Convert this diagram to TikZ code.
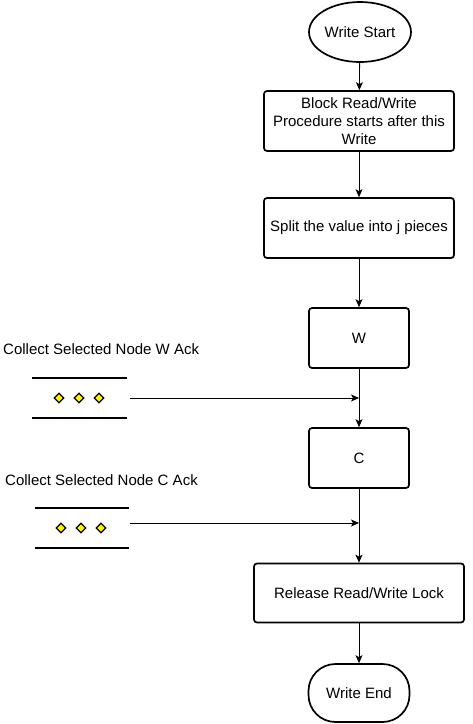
\documentclass[tikz,border=0pt]{standalone}
\usepackage{fontspec}
\setmainfont{Liberation Sans}
\usetikzlibrary{arrows.meta,shapes.geometric}

\begin{document}
\begin{tikzpicture}[x=1pt,y=-1pt,
  every node/.style={font=\fontsize{15}{18}\selectfont,inner sep=0pt},
  box/.style={draw,line width=1.7pt,rounded corners=3pt,minimum height=60pt,align=center},
  arr/.style={-{Stealth[length=8pt,width=7pt,inset=2pt]},line width=0.8pt},
  dot/.style={diamond,draw,fill=yellow,line width=1.2pt,minimum size=10pt}]
\useasboundingbox (0,0) rectangle (473,724);
% main flow
\node[ellipse,draw,line width=1.7pt,minimum width=102pt,minimum height=60pt] (S) at (360,32) {Write Start};
\node[box,minimum width=190pt] (B1) at (359,121) {Block Read/Write\\Procedure starts after this\\Write};
\node[box,minimum width=190pt] (B2) at (359,228) {Split the value into j pieces};
\node[box,minimum width=100pt] (W) at (359,338) {W};
\node[box,minimum width=100pt] (C) at (359,458) {C};
\node[box,minimum width=210pt,minimum height=59pt] (R) at (359,593) {Release Read/Write Lock};
\node[box,rounded corners=27pt,minimum width=101pt,minimum height=58pt] (E) at (359,693) {Write End};
\draw[arr] (S) -- (B1);
\draw[arr] (B1) -- (B2);
\draw[arr] (B2) -- (W);
\draw[arr] (W) -- (C);
\draw[arr] (C) -- (R);
\draw[arr] (R) -- (E);
% ack queues
\node[anchor=west] (TW) at (3,349) {Collect Selected Node W Ack};
\node[anchor=west] (TC) at (5,480) {Collect Selected Node C Ack};
\draw[line width=1.7pt] (32,378) -- (127,378) (32,418) -- (127,418);
\draw[line width=1.7pt] (35,508) -- (129,508) (35,548) -- (129,548);
\foreach \x in {59,79,99} \node[dot] at (\x,398) {};
\foreach \x in {61,81,101} \node[dot] at (\x,528) {};
\coordinate (QW) at (130,398);
\coordinate (QC) at (130,523);
\coordinate (JW) at (359,398);
\coordinate (JC) at (359,523);
\draw[arr] (QW) -- (JW);
\draw[arr] (QC) -- (JC);
\end{tikzpicture}
\end{document}
